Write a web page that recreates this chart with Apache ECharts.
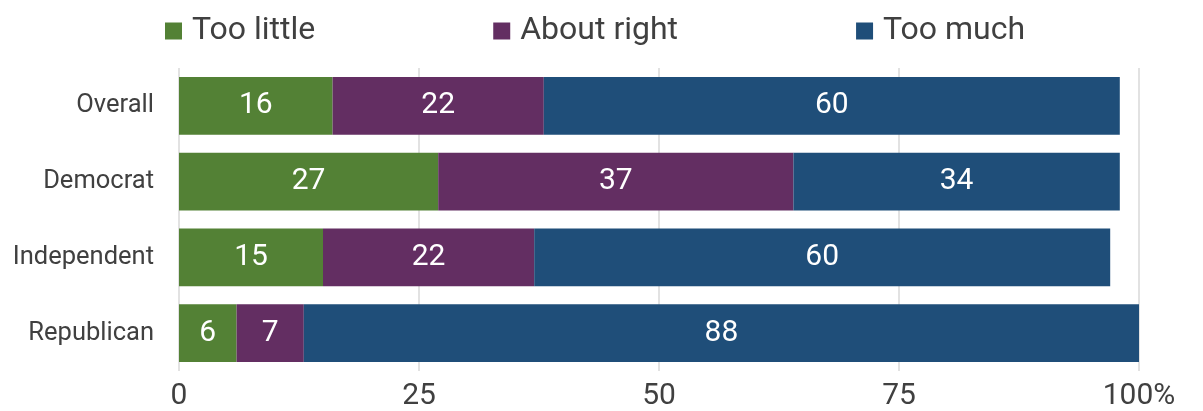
<!DOCTYPE html>
<html>
<head>
<meta charset="UTF-8">
<title>Too little / About right / Too much</title>
<script type="text/javascript" src="https://cdn.jsdelivr.net/npm/echarts@6/dist/echarts.min.js"></script>
<style>
  html, body { margin: 0; padding: 0; background: #fff; }
</style>
</head>
<body>
<div id="main" style="width:1203px;height:411px"></div>
<script type="text/javascript">
// data
var groups = ['Overall', 'Democrat', 'Independent', 'Republican'];
var tooLittle = [16, 27, 15, 6];
var aboutRight = [22, 37, 22, 7];
var tooMuch = [60, 34, 60, 88];
var xTicks = [0, 25, 50, 75, 100];

var textColor = '#404040';
var fontName = 'Roboto';

var myChart = echarts.init(document.getElementById('main'));

function makeSeries(name, values, color) {
    return {
        name: name,
        type: 'bar',
        stack: 'total',
        data: values,
        barCategoryGap: '23.5%',
        itemStyle: { color: color },
        label: {
            show: true,
            position: 'inside',
            color: '#fff',
            fontFamily: fontName,
            fontSize: 30
        }
    };
}

var option = {
    backgroundColor: '#fff',
    animation: false,
    legend: {
        left: 160,
        top: 10,
        itemWidth: 17,
        itemHeight: 17,
        itemGap: 178,
        icon: 'rect',
        textStyle: {
            color: textColor,
            fontFamily: fontName,
            fontSize: 32,
            padding: [0, 0, 0, 5]
        },
        data: ['Too little', 'About right', 'Too much']
    },
    grid: {
        left: 179,
        right: 64,
        top: 68,
        bottom: 37,
        containLabel: false
    },
    xAxis: {
        type: 'value',
        min: 0,
        max: 100,
        interval: 25,
        axisLine: { show: false },
        axisTick: { show: false },
        splitLine: { show: true, lineStyle: { color: '#d9d9d9', width: 1.5 } },
        axisLabel: {
            color: textColor,
            fontFamily: fontName,
            fontSize: 30,
            margin: 10,
            formatter: function (v) {
                return xTicks.indexOf(v) === xTicks.length - 1 ? v + '%' : String(v);
            }
        }
    },
    yAxis: {
        type: 'category',
        data: groups,
        inverse: true,
        axisLine: { show: false },
        axisTick: { show: false },
        axisLabel: {
            color: textColor,
            fontFamily: fontName,
            fontSize: 25.5,
            margin: 25
        }
    },
    series: [
        makeSeries('Too little', tooLittle, '#538135'),
        makeSeries('About right', aboutRight, '#632e62'),
        makeSeries('Too much', tooMuch, '#1f4e79')
    ]
};

myChart.setOption(option);
</script>
</body>
</html>
